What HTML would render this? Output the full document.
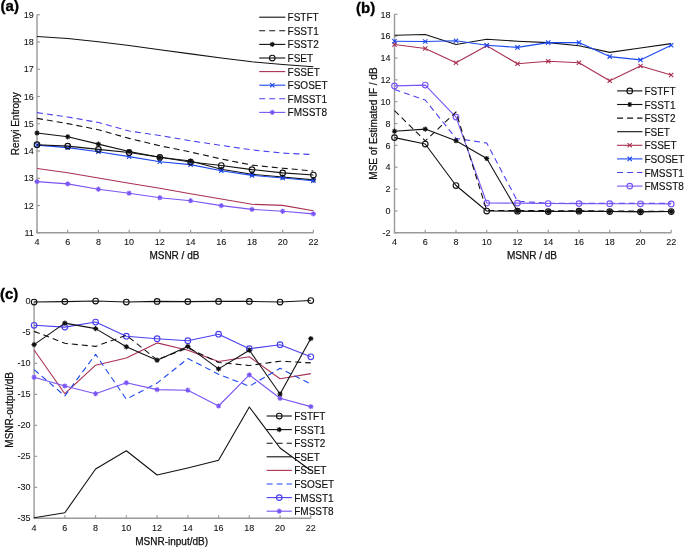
<!DOCTYPE html>
<html><head><meta charset="utf-8"><style>html,body{margin:0;padding:0;background:#fff;width:685px;height:547px;overflow:hidden}</style></head><body>
<svg width="685" height="547" viewBox="0 0 685 547" style="display:block;will-change:transform">
<rect width="685" height="547" fill="#fff"/>
<path d="M37 14.7V232.8H313.4" fill="none" stroke="#9a9a9a" stroke-width="1.4"/>
<line x1="37" y1="232.8" x2="37" y2="229.8" stroke="#9a9a9a" stroke-width="1.2"/>
<line x1="67.71" y1="232.8" x2="67.71" y2="229.8" stroke="#9a9a9a" stroke-width="1.2"/>
<line x1="98.42" y1="232.8" x2="98.42" y2="229.8" stroke="#9a9a9a" stroke-width="1.2"/>
<line x1="129.13" y1="232.8" x2="129.13" y2="229.8" stroke="#9a9a9a" stroke-width="1.2"/>
<line x1="159.84" y1="232.8" x2="159.84" y2="229.8" stroke="#9a9a9a" stroke-width="1.2"/>
<line x1="190.56" y1="232.8" x2="190.56" y2="229.8" stroke="#9a9a9a" stroke-width="1.2"/>
<line x1="221.27" y1="232.8" x2="221.27" y2="229.8" stroke="#9a9a9a" stroke-width="1.2"/>
<line x1="251.98" y1="232.8" x2="251.98" y2="229.8" stroke="#9a9a9a" stroke-width="1.2"/>
<line x1="282.69" y1="232.8" x2="282.69" y2="229.8" stroke="#9a9a9a" stroke-width="1.2"/>
<line x1="313.4" y1="232.8" x2="313.4" y2="229.8" stroke="#9a9a9a" stroke-width="1.2"/>
<line x1="37" y1="232.8" x2="40" y2="232.8" stroke="#9a9a9a" stroke-width="1.2"/>
<line x1="37" y1="205.54" x2="40" y2="205.54" stroke="#9a9a9a" stroke-width="1.2"/>
<line x1="37" y1="178.28" x2="40" y2="178.28" stroke="#9a9a9a" stroke-width="1.2"/>
<line x1="37" y1="151.01" x2="40" y2="151.01" stroke="#9a9a9a" stroke-width="1.2"/>
<line x1="37" y1="123.75" x2="40" y2="123.75" stroke="#9a9a9a" stroke-width="1.2"/>
<line x1="37" y1="96.49" x2="40" y2="96.49" stroke="#9a9a9a" stroke-width="1.2"/>
<line x1="37" y1="69.22" x2="40" y2="69.22" stroke="#9a9a9a" stroke-width="1.2"/>
<line x1="37" y1="41.96" x2="40" y2="41.96" stroke="#9a9a9a" stroke-width="1.2"/>
<line x1="37" y1="14.7" x2="40" y2="14.7" stroke="#9a9a9a" stroke-width="1.2"/>
<text x="37" y="245.2" text-anchor="middle" font-size="9" font-family="Liberation Sans, sans-serif" fill="#111" stroke="#111" stroke-width="0.08">4</text>
<text x="67.71" y="245.2" text-anchor="middle" font-size="9" font-family="Liberation Sans, sans-serif" fill="#111" stroke="#111" stroke-width="0.08">6</text>
<text x="98.42" y="245.2" text-anchor="middle" font-size="9" font-family="Liberation Sans, sans-serif" fill="#111" stroke="#111" stroke-width="0.08">8</text>
<text x="129.13" y="245.2" text-anchor="middle" font-size="9" font-family="Liberation Sans, sans-serif" fill="#111" stroke="#111" stroke-width="0.08">10</text>
<text x="159.84" y="245.2" text-anchor="middle" font-size="9" font-family="Liberation Sans, sans-serif" fill="#111" stroke="#111" stroke-width="0.08">12</text>
<text x="190.56" y="245.2" text-anchor="middle" font-size="9" font-family="Liberation Sans, sans-serif" fill="#111" stroke="#111" stroke-width="0.08">14</text>
<text x="221.27" y="245.2" text-anchor="middle" font-size="9" font-family="Liberation Sans, sans-serif" fill="#111" stroke="#111" stroke-width="0.08">16</text>
<text x="251.98" y="245.2" text-anchor="middle" font-size="9" font-family="Liberation Sans, sans-serif" fill="#111" stroke="#111" stroke-width="0.08">18</text>
<text x="282.69" y="245.2" text-anchor="middle" font-size="9" font-family="Liberation Sans, sans-serif" fill="#111" stroke="#111" stroke-width="0.08">20</text>
<text x="313.4" y="245.2" text-anchor="middle" font-size="9" font-family="Liberation Sans, sans-serif" fill="#111" stroke="#111" stroke-width="0.08">22</text>
<text x="33.8" y="236" text-anchor="end" font-size="9" font-family="Liberation Sans, sans-serif" fill="#111" stroke="#111" stroke-width="0.08">11</text>
<text x="33.8" y="208.74" text-anchor="end" font-size="9" font-family="Liberation Sans, sans-serif" fill="#111" stroke="#111" stroke-width="0.08">12</text>
<text x="33.8" y="181.47" text-anchor="end" font-size="9" font-family="Liberation Sans, sans-serif" fill="#111" stroke="#111" stroke-width="0.08">13</text>
<text x="33.8" y="154.21" text-anchor="end" font-size="9" font-family="Liberation Sans, sans-serif" fill="#111" stroke="#111" stroke-width="0.08">14</text>
<text x="33.8" y="126.95" text-anchor="end" font-size="9" font-family="Liberation Sans, sans-serif" fill="#111" stroke="#111" stroke-width="0.08">15</text>
<text x="33.8" y="99.69" text-anchor="end" font-size="9" font-family="Liberation Sans, sans-serif" fill="#111" stroke="#111" stroke-width="0.08">16</text>
<text x="33.8" y="72.42" text-anchor="end" font-size="9" font-family="Liberation Sans, sans-serif" fill="#111" stroke="#111" stroke-width="0.08">17</text>
<text x="33.8" y="45.16" text-anchor="end" font-size="9" font-family="Liberation Sans, sans-serif" fill="#111" stroke="#111" stroke-width="0.08">18</text>
<text x="33.8" y="17.9" text-anchor="end" font-size="9" font-family="Liberation Sans, sans-serif" fill="#111" stroke="#111" stroke-width="0.08">19</text>
<text x="174.4" y="258.8" text-anchor="middle" font-size="10" font-family="Liberation Sans, sans-serif" fill="#111" stroke="#111" stroke-width="0.25">MSNR / dB</text>
<text x="0" y="0" transform="translate(18.6 123.75) rotate(-90)" text-anchor="middle" font-size="10" font-family="Liberation Sans, sans-serif" fill="#111" stroke="#111" stroke-width="0.25">Renyi Entropy</text>
<path d="M37 36.5 L67.71 38.5 L98.42 41.8 L129.13 45.5 L159.84 49.8 L190.56 53.9 L221.27 58 L251.98 61.8 L282.69 64.5 L313.4 66.8" fill="none" stroke="#111" stroke-width="1.1" stroke-linejoin="round"/>
<path d="M37 118.4 L67.71 123.6 L98.42 129.8 L129.13 138.4 L159.84 145.8 L190.56 152 L221.27 159 L251.98 165.1 L282.69 168.2 L313.4 171" fill="none" stroke="#111" stroke-width="1.1" stroke-dasharray="6 4" stroke-linejoin="round"/>
<path d="M37 112.6 L67.71 117 L98.42 122.5 L129.13 131 L159.84 135.5 L190.56 140.8 L221.27 145.4 L251.98 149.9 L282.69 153.1 L313.4 154.6" fill="none" stroke="#4a40f0" stroke-width="1.1" stroke-dasharray="6 4" stroke-linejoin="round"/>
<path d="M37 168.5 L67.71 172.7 L98.42 178 L129.13 183.3 L159.84 188.2 L190.56 193.8 L221.27 199 L251.98 204.3 L282.69 205.4 L313.4 210.7" fill="none" stroke="#aa3050" stroke-width="1.1" stroke-linejoin="round"/>
<path d="M37 181.6 L67.71 183.9 L98.42 189.2 L129.13 193.2 L159.84 197.7 L190.56 200.7 L221.27 205.6 L251.98 209.4 L282.69 211.3 L313.4 213.9" fill="none" stroke="#7a55f5" stroke-width="1.1" stroke-linejoin="round"/>
<path d="M34.4 181.6H39.6M37 179V184.2M35.18 179.78L38.82 183.42M35.18 183.42L38.82 179.78" stroke="#7a55f5" stroke-width="1.1"/><circle cx="37" cy="181.6" r="1.4" fill="#7a55f5"/>
<path d="M65.11 183.9H70.31M67.71 181.3V186.5M65.89 182.08L69.53 185.72M65.89 185.72L69.53 182.08" stroke="#7a55f5" stroke-width="1.1"/><circle cx="67.71" cy="183.9" r="1.4" fill="#7a55f5"/>
<path d="M95.82 189.2H101.02M98.42 186.6V191.8M96.6 187.38L100.24 191.02M96.6 191.02L100.24 187.38" stroke="#7a55f5" stroke-width="1.1"/><circle cx="98.42" cy="189.2" r="1.4" fill="#7a55f5"/>
<path d="M126.53 193.2H131.73M129.13 190.6V195.8M127.31 191.38L130.95 195.02M127.31 195.02L130.95 191.38" stroke="#7a55f5" stroke-width="1.1"/><circle cx="129.13" cy="193.2" r="1.4" fill="#7a55f5"/>
<path d="M157.24 197.7H162.44M159.84 195.1V200.3M158.02 195.88L161.66 199.52M158.02 199.52L161.66 195.88" stroke="#7a55f5" stroke-width="1.1"/><circle cx="159.84" cy="197.7" r="1.4" fill="#7a55f5"/>
<path d="M187.96 200.7H193.16M190.56 198.1V203.3M188.74 198.88L192.38 202.52M188.74 202.52L192.38 198.88" stroke="#7a55f5" stroke-width="1.1"/><circle cx="190.56" cy="200.7" r="1.4" fill="#7a55f5"/>
<path d="M218.67 205.6H223.87M221.27 203V208.2M219.45 203.78L223.09 207.42M219.45 207.42L223.09 203.78" stroke="#7a55f5" stroke-width="1.1"/><circle cx="221.27" cy="205.6" r="1.4" fill="#7a55f5"/>
<path d="M249.38 209.4H254.58M251.98 206.8V212M250.16 207.58L253.8 211.22M250.16 211.22L253.8 207.58" stroke="#7a55f5" stroke-width="1.1"/><circle cx="251.98" cy="209.4" r="1.4" fill="#7a55f5"/>
<path d="M280.09 211.3H285.29M282.69 208.7V213.9M280.87 209.48L284.51 213.12M280.87 213.12L284.51 209.48" stroke="#7a55f5" stroke-width="1.1"/><circle cx="282.69" cy="211.3" r="1.4" fill="#7a55f5"/>
<path d="M310.8 213.9H316M313.4 211.3V216.5M311.58 212.08L315.22 215.72M311.58 215.72L315.22 212.08" stroke="#7a55f5" stroke-width="1.1"/><circle cx="313.4" cy="213.9" r="1.4" fill="#7a55f5"/>
<path d="M37 133 L67.71 136.8 L98.42 144.1 L129.13 151.5 L159.84 157.3 L190.56 161 L221.27 169.3 L251.98 174.3 L282.69 177 L313.4 179.9" fill="none" stroke="#111" stroke-width="1.1" stroke-linejoin="round"/>
<path d="M34.4 133H39.6M37 130.4V135.6M35.18 131.18L38.82 134.82M35.18 134.82L38.82 131.18" stroke="#111" stroke-width="1.1"/><circle cx="37" cy="133" r="1.4" fill="#111"/>
<path d="M65.11 136.8H70.31M67.71 134.2V139.4M65.89 134.98L69.53 138.62M65.89 138.62L69.53 134.98" stroke="#111" stroke-width="1.1"/><circle cx="67.71" cy="136.8" r="1.4" fill="#111"/>
<path d="M95.82 144.1H101.02M98.42 141.5V146.7M96.6 142.28L100.24 145.92M96.6 145.92L100.24 142.28" stroke="#111" stroke-width="1.1"/><circle cx="98.42" cy="144.1" r="1.4" fill="#111"/>
<path d="M126.53 151.5H131.73M129.13 148.9V154.1M127.31 149.68L130.95 153.32M127.31 153.32L130.95 149.68" stroke="#111" stroke-width="1.1"/><circle cx="129.13" cy="151.5" r="1.4" fill="#111"/>
<path d="M157.24 157.3H162.44M159.84 154.7V159.9M158.02 155.48L161.66 159.12M158.02 159.12L161.66 155.48" stroke="#111" stroke-width="1.1"/><circle cx="159.84" cy="157.3" r="1.4" fill="#111"/>
<path d="M187.96 161H193.16M190.56 158.4V163.6M188.74 159.18L192.38 162.82M188.74 162.82L192.38 159.18" stroke="#111" stroke-width="1.1"/><circle cx="190.56" cy="161" r="1.4" fill="#111"/>
<path d="M218.67 169.3H223.87M221.27 166.7V171.9M219.45 167.48L223.09 171.12M219.45 171.12L223.09 167.48" stroke="#111" stroke-width="1.1"/><circle cx="221.27" cy="169.3" r="1.4" fill="#111"/>
<path d="M249.38 174.3H254.58M251.98 171.7V176.9M250.16 172.48L253.8 176.12M250.16 176.12L253.8 172.48" stroke="#111" stroke-width="1.1"/><circle cx="251.98" cy="174.3" r="1.4" fill="#111"/>
<path d="M280.09 177H285.29M282.69 174.4V179.6M280.87 175.18L284.51 178.82M280.87 178.82L284.51 175.18" stroke="#111" stroke-width="1.1"/><circle cx="282.69" cy="177" r="1.4" fill="#111"/>
<path d="M310.8 179.9H316M313.4 177.3V182.5M311.58 178.08L315.22 181.72M311.58 181.72L315.22 178.08" stroke="#111" stroke-width="1.1"/><circle cx="313.4" cy="179.9" r="1.4" fill="#111"/>
<path d="M37 145.1 L67.71 147.6 L98.42 151.7 L129.13 156.6 L159.84 161.7 L190.56 164.6 L221.27 170.7 L251.98 175.4 L282.69 178 L313.4 180.7" fill="none" stroke="#1c48f0" stroke-width="1.1" stroke-linejoin="round"/>
<path d="M34.85 142.95L39.15 147.25M34.85 147.25L39.15 142.95" stroke="#1c48f0" stroke-width="1.1"/>
<path d="M65.56 145.45L69.86 149.75M65.56 149.75L69.86 145.45" stroke="#1c48f0" stroke-width="1.1"/>
<path d="M96.27 149.55L100.57 153.85M96.27 153.85L100.57 149.55" stroke="#1c48f0" stroke-width="1.1"/>
<path d="M126.98 154.45L131.28 158.75M126.98 158.75L131.28 154.45" stroke="#1c48f0" stroke-width="1.1"/>
<path d="M157.69 159.55L161.99 163.85M157.69 163.85L161.99 159.55" stroke="#1c48f0" stroke-width="1.1"/>
<path d="M188.41 162.45L192.71 166.75M188.41 166.75L192.71 162.45" stroke="#1c48f0" stroke-width="1.1"/>
<path d="M219.12 168.55L223.42 172.85M219.12 172.85L223.42 168.55" stroke="#1c48f0" stroke-width="1.1"/>
<path d="M249.83 173.25L254.13 177.55M249.83 177.55L254.13 173.25" stroke="#1c48f0" stroke-width="1.1"/>
<path d="M280.54 175.85L284.84 180.15M280.54 180.15L284.84 175.85" stroke="#1c48f0" stroke-width="1.1"/>
<path d="M311.25 178.55L315.55 182.85M311.25 182.85L315.55 178.55" stroke="#1c48f0" stroke-width="1.1"/>
<path d="M37 144.7 L67.71 146.1 L98.42 149.4 L129.13 152.5 L159.84 157.3 L190.56 162 L221.27 165.5 L251.98 169.6 L282.69 172.9 L313.4 175" fill="none" stroke="#111" stroke-width="1.1" stroke-linejoin="round"/>
<circle cx="37" cy="144.7" r="2.8" fill="none" stroke="#111" stroke-width="1.15"/>
<circle cx="67.71" cy="146.1" r="2.8" fill="none" stroke="#111" stroke-width="1.15"/>
<circle cx="98.42" cy="149.4" r="2.8" fill="none" stroke="#111" stroke-width="1.15"/>
<circle cx="129.13" cy="152.5" r="2.8" fill="none" stroke="#111" stroke-width="1.15"/>
<circle cx="159.84" cy="157.3" r="2.8" fill="none" stroke="#111" stroke-width="1.15"/>
<circle cx="190.56" cy="162" r="2.8" fill="none" stroke="#111" stroke-width="1.15"/>
<circle cx="221.27" cy="165.5" r="2.8" fill="none" stroke="#111" stroke-width="1.15"/>
<circle cx="251.98" cy="169.6" r="2.8" fill="none" stroke="#111" stroke-width="1.15"/>
<circle cx="282.69" cy="172.9" r="2.8" fill="none" stroke="#111" stroke-width="1.15"/>
<circle cx="313.4" cy="175" r="2.8" fill="none" stroke="#111" stroke-width="1.15"/>
<line x1="259.2" y1="17.2" x2="285.3" y2="17.2" stroke="#111" stroke-width="1.1"/>
<text x="287.6" y="21.2" font-size="10" font-family="Liberation Sans, sans-serif" fill="#111" stroke="#111" stroke-width="0.15">FSTFT</text>
<line x1="259.2" y1="30.8" x2="285.3" y2="30.8" stroke="#111" stroke-width="1.1" stroke-dasharray="6 4"/>
<text x="287.6" y="34.8" font-size="10" font-family="Liberation Sans, sans-serif" fill="#111" stroke="#111" stroke-width="0.15">FSST1</text>
<line x1="259.2" y1="44.4" x2="285.3" y2="44.4" stroke="#111" stroke-width="1.1"/>
<path d="M269.65 44.4H274.85M272.25 41.8V47M270.43 42.58L274.07 46.22M270.43 46.22L274.07 42.58" stroke="#111" stroke-width="1.1"/><circle cx="272.25" cy="44.4" r="1.4" fill="#111"/>
<text x="287.6" y="48.4" font-size="10" font-family="Liberation Sans, sans-serif" fill="#111" stroke="#111" stroke-width="0.15">FSST2</text>
<line x1="259.2" y1="58" x2="285.3" y2="58" stroke="#111" stroke-width="1.1"/>
<circle cx="272.25" cy="58" r="2.8" fill="none" stroke="#111" stroke-width="1.15"/>
<text x="287.6" y="62" font-size="10" font-family="Liberation Sans, sans-serif" fill="#111" stroke="#111" stroke-width="0.15">FSET</text>
<line x1="259.2" y1="71.6" x2="285.3" y2="71.6" stroke="#aa3050" stroke-width="1.1"/>
<text x="287.6" y="75.6" font-size="10" font-family="Liberation Sans, sans-serif" fill="#111" stroke="#111" stroke-width="0.15">FSSET</text>
<line x1="259.2" y1="85.2" x2="285.3" y2="85.2" stroke="#1c48f0" stroke-width="1.1"/>
<path d="M270.1 83.05L274.4 87.35M270.1 87.35L274.4 83.05" stroke="#1c48f0" stroke-width="1.1"/>
<text x="287.6" y="89.2" font-size="10" font-family="Liberation Sans, sans-serif" fill="#111" stroke="#111" stroke-width="0.15">FSOSET</text>
<line x1="259.2" y1="98.8" x2="285.3" y2="98.8" stroke="#4a40f0" stroke-width="1.1" stroke-dasharray="6 4"/>
<text x="287.6" y="102.8" font-size="10" font-family="Liberation Sans, sans-serif" fill="#111" stroke="#111" stroke-width="0.15">FMSST1</text>
<line x1="259.2" y1="112.4" x2="285.3" y2="112.4" stroke="#7a55f5" stroke-width="1.1"/>
<path d="M269.65 112.4H274.85M272.25 109.8V115M270.43 110.58L274.07 114.22M270.43 114.22L274.07 110.58" stroke="#7a55f5" stroke-width="1.1"/><circle cx="272.25" cy="112.4" r="1.4" fill="#7a55f5"/>
<text x="287.6" y="116.4" font-size="10" font-family="Liberation Sans, sans-serif" fill="#111" stroke="#111" stroke-width="0.15">FMSST8</text>
<text x="0.6" y="11.3" font-size="15" font-weight="bold" font-family="Liberation Sans, sans-serif" fill="#000" stroke="#000" stroke-width="0.35">(a)</text>
<path d="M394.5 14.3V232.8H671.2" fill="none" stroke="#9a9a9a" stroke-width="1.4"/>
<line x1="394.5" y1="232.8" x2="394.5" y2="229.8" stroke="#9a9a9a" stroke-width="1.2"/>
<line x1="425.24" y1="232.8" x2="425.24" y2="229.8" stroke="#9a9a9a" stroke-width="1.2"/>
<line x1="455.99" y1="232.8" x2="455.99" y2="229.8" stroke="#9a9a9a" stroke-width="1.2"/>
<line x1="486.73" y1="232.8" x2="486.73" y2="229.8" stroke="#9a9a9a" stroke-width="1.2"/>
<line x1="517.48" y1="232.8" x2="517.48" y2="229.8" stroke="#9a9a9a" stroke-width="1.2"/>
<line x1="548.22" y1="232.8" x2="548.22" y2="229.8" stroke="#9a9a9a" stroke-width="1.2"/>
<line x1="578.97" y1="232.8" x2="578.97" y2="229.8" stroke="#9a9a9a" stroke-width="1.2"/>
<line x1="609.71" y1="232.8" x2="609.71" y2="229.8" stroke="#9a9a9a" stroke-width="1.2"/>
<line x1="640.46" y1="232.8" x2="640.46" y2="229.8" stroke="#9a9a9a" stroke-width="1.2"/>
<line x1="671.2" y1="232.8" x2="671.2" y2="229.8" stroke="#9a9a9a" stroke-width="1.2"/>
<line x1="394.5" y1="232.8" x2="397.5" y2="232.8" stroke="#9a9a9a" stroke-width="1.2"/>
<line x1="394.5" y1="210.95" x2="397.5" y2="210.95" stroke="#9a9a9a" stroke-width="1.2"/>
<line x1="394.5" y1="189.1" x2="397.5" y2="189.1" stroke="#9a9a9a" stroke-width="1.2"/>
<line x1="394.5" y1="167.25" x2="397.5" y2="167.25" stroke="#9a9a9a" stroke-width="1.2"/>
<line x1="394.5" y1="145.4" x2="397.5" y2="145.4" stroke="#9a9a9a" stroke-width="1.2"/>
<line x1="394.5" y1="123.55" x2="397.5" y2="123.55" stroke="#9a9a9a" stroke-width="1.2"/>
<line x1="394.5" y1="101.7" x2="397.5" y2="101.7" stroke="#9a9a9a" stroke-width="1.2"/>
<line x1="394.5" y1="79.85" x2="397.5" y2="79.85" stroke="#9a9a9a" stroke-width="1.2"/>
<line x1="394.5" y1="58" x2="397.5" y2="58" stroke="#9a9a9a" stroke-width="1.2"/>
<line x1="394.5" y1="36.15" x2="397.5" y2="36.15" stroke="#9a9a9a" stroke-width="1.2"/>
<line x1="394.5" y1="14.3" x2="397.5" y2="14.3" stroke="#9a9a9a" stroke-width="1.2"/>
<text x="394.5" y="245.2" text-anchor="middle" font-size="9" font-family="Liberation Sans, sans-serif" fill="#111" stroke="#111" stroke-width="0.08">4</text>
<text x="425.24" y="245.2" text-anchor="middle" font-size="9" font-family="Liberation Sans, sans-serif" fill="#111" stroke="#111" stroke-width="0.08">6</text>
<text x="455.99" y="245.2" text-anchor="middle" font-size="9" font-family="Liberation Sans, sans-serif" fill="#111" stroke="#111" stroke-width="0.08">8</text>
<text x="486.73" y="245.2" text-anchor="middle" font-size="9" font-family="Liberation Sans, sans-serif" fill="#111" stroke="#111" stroke-width="0.08">10</text>
<text x="517.48" y="245.2" text-anchor="middle" font-size="9" font-family="Liberation Sans, sans-serif" fill="#111" stroke="#111" stroke-width="0.08">12</text>
<text x="548.22" y="245.2" text-anchor="middle" font-size="9" font-family="Liberation Sans, sans-serif" fill="#111" stroke="#111" stroke-width="0.08">14</text>
<text x="578.97" y="245.2" text-anchor="middle" font-size="9" font-family="Liberation Sans, sans-serif" fill="#111" stroke="#111" stroke-width="0.08">16</text>
<text x="609.71" y="245.2" text-anchor="middle" font-size="9" font-family="Liberation Sans, sans-serif" fill="#111" stroke="#111" stroke-width="0.08">18</text>
<text x="640.46" y="245.2" text-anchor="middle" font-size="9" font-family="Liberation Sans, sans-serif" fill="#111" stroke="#111" stroke-width="0.08">20</text>
<text x="671.2" y="245.2" text-anchor="middle" font-size="9" font-family="Liberation Sans, sans-serif" fill="#111" stroke="#111" stroke-width="0.08">22</text>
<text x="390.5" y="236" text-anchor="end" font-size="9" font-family="Liberation Sans, sans-serif" fill="#111" stroke="#111" stroke-width="0.08">-2</text>
<text x="390.5" y="214.15" text-anchor="end" font-size="9" font-family="Liberation Sans, sans-serif" fill="#111" stroke="#111" stroke-width="0.08">0</text>
<text x="390.5" y="192.3" text-anchor="end" font-size="9" font-family="Liberation Sans, sans-serif" fill="#111" stroke="#111" stroke-width="0.08">2</text>
<text x="390.5" y="170.45" text-anchor="end" font-size="9" font-family="Liberation Sans, sans-serif" fill="#111" stroke="#111" stroke-width="0.08">4</text>
<text x="390.5" y="148.6" text-anchor="end" font-size="9" font-family="Liberation Sans, sans-serif" fill="#111" stroke="#111" stroke-width="0.08">6</text>
<text x="390.5" y="126.75" text-anchor="end" font-size="9" font-family="Liberation Sans, sans-serif" fill="#111" stroke="#111" stroke-width="0.08">8</text>
<text x="390.5" y="104.9" text-anchor="end" font-size="9" font-family="Liberation Sans, sans-serif" fill="#111" stroke="#111" stroke-width="0.08">10</text>
<text x="390.5" y="83.05" text-anchor="end" font-size="9" font-family="Liberation Sans, sans-serif" fill="#111" stroke="#111" stroke-width="0.08">12</text>
<text x="390.5" y="61.2" text-anchor="end" font-size="9" font-family="Liberation Sans, sans-serif" fill="#111" stroke="#111" stroke-width="0.08">14</text>
<text x="390.5" y="39.35" text-anchor="end" font-size="9" font-family="Liberation Sans, sans-serif" fill="#111" stroke="#111" stroke-width="0.08">16</text>
<text x="390.5" y="17.5" text-anchor="end" font-size="9" font-family="Liberation Sans, sans-serif" fill="#111" stroke="#111" stroke-width="0.08">18</text>
<text x="532.05" y="258.9" text-anchor="middle" font-size="10" font-family="Liberation Sans, sans-serif" fill="#111" stroke="#111" stroke-width="0.25">MSNR / dB</text>
<text x="0" y="0" transform="translate(376.8 123.55) rotate(-90)" text-anchor="middle" font-size="10" font-family="Liberation Sans, sans-serif" fill="#111" stroke="#111" stroke-width="0.25">MSE of Estimated IF / dB</text>
<path d="M394.5 35.3 L425.24 34.5 L455.99 44.5 L486.73 39.3 L517.48 41.2 L548.22 42.6 L578.97 45.8 L609.71 52.4 L640.46 48 L671.2 43.6" fill="none" stroke="#111" stroke-width="1.1" stroke-linejoin="round"/>
<path d="M394.5 44.5 L425.24 48.5 L455.99 62.7 L486.73 45.8 L517.48 63.8 L548.22 61.2 L578.97 62.7 L609.71 80.8 L640.46 66 L671.2 75" fill="none" stroke="#aa3050" stroke-width="1.1" stroke-linejoin="round"/>
<path d="M392.35 42.35L396.65 46.65M392.35 46.65L396.65 42.35" stroke="#aa3050" stroke-width="1.1"/>
<path d="M423.09 46.35L427.39 50.65M423.09 50.65L427.39 46.35" stroke="#aa3050" stroke-width="1.1"/>
<path d="M453.84 60.55L458.14 64.85M453.84 64.85L458.14 60.55" stroke="#aa3050" stroke-width="1.1"/>
<path d="M484.58 43.65L488.88 47.95M484.58 47.95L488.88 43.65" stroke="#aa3050" stroke-width="1.1"/>
<path d="M515.33 61.65L519.63 65.95M515.33 65.95L519.63 61.65" stroke="#aa3050" stroke-width="1.1"/>
<path d="M546.07 59.05L550.37 63.35M546.07 63.35L550.37 59.05" stroke="#aa3050" stroke-width="1.1"/>
<path d="M576.82 60.55L581.12 64.85M576.82 64.85L581.12 60.55" stroke="#aa3050" stroke-width="1.1"/>
<path d="M607.56 78.65L611.86 82.95M607.56 82.95L611.86 78.65" stroke="#aa3050" stroke-width="1.1"/>
<path d="M638.31 63.85L642.61 68.15M638.31 68.15L642.61 63.85" stroke="#aa3050" stroke-width="1.1"/>
<path d="M669.05 72.85L673.35 77.15M669.05 77.15L673.35 72.85" stroke="#aa3050" stroke-width="1.1"/>
<path d="M394.5 41.2 L425.24 41.5 L455.99 40.8 L486.73 45.2 L517.48 47.4 L548.22 42.6 L578.97 42.6 L609.71 56.6 L640.46 59.9 L671.2 45.2" fill="none" stroke="#1c48f0" stroke-width="1.1" stroke-linejoin="round"/>
<path d="M392.35 39.05L396.65 43.35M392.35 43.35L396.65 39.05" stroke="#1c48f0" stroke-width="1.1"/>
<path d="M423.09 39.35L427.39 43.65M423.09 43.65L427.39 39.35" stroke="#1c48f0" stroke-width="1.1"/>
<path d="M453.84 38.65L458.14 42.95M453.84 42.95L458.14 38.65" stroke="#1c48f0" stroke-width="1.1"/>
<path d="M484.58 43.05L488.88 47.35M484.58 47.35L488.88 43.05" stroke="#1c48f0" stroke-width="1.1"/>
<path d="M515.33 45.25L519.63 49.55M515.33 49.55L519.63 45.25" stroke="#1c48f0" stroke-width="1.1"/>
<path d="M546.07 40.45L550.37 44.75M546.07 44.75L550.37 40.45" stroke="#1c48f0" stroke-width="1.1"/>
<path d="M576.82 40.45L581.12 44.75M576.82 44.75L581.12 40.45" stroke="#1c48f0" stroke-width="1.1"/>
<path d="M607.56 54.45L611.86 58.75M607.56 58.75L611.86 54.45" stroke="#1c48f0" stroke-width="1.1"/>
<path d="M638.31 57.75L642.61 62.05M638.31 62.05L642.61 57.75" stroke="#1c48f0" stroke-width="1.1"/>
<path d="M669.05 43.05L673.35 47.35M669.05 47.35L673.35 43.05" stroke="#1c48f0" stroke-width="1.1"/>
<path d="M394.5 89.5 L425.24 100 L455.99 138.4 L486.73 143 L517.48 201.2 L548.22 203.2 L578.97 203.3 L609.71 203.4 L640.46 203.4 L671.2 203.4" fill="none" stroke="#4a40f0" stroke-width="1.1" stroke-dasharray="6 4" stroke-linejoin="round"/>
<path d="M394.5 85.9 L425.24 85.1 L455.99 117.1 L486.73 203 L517.48 203.1 L548.22 203.5 L578.97 203.6 L609.71 203.7 L640.46 203.8 L671.2 203.9" fill="none" stroke="#7a55f5" stroke-width="1.1" stroke-linejoin="round"/>
<circle cx="394.5" cy="85.9" r="2.8" fill="none" stroke="#7a55f5" stroke-width="1.15"/>
<circle cx="425.24" cy="85.1" r="2.8" fill="none" stroke="#7a55f5" stroke-width="1.15"/>
<circle cx="455.99" cy="117.1" r="2.8" fill="none" stroke="#7a55f5" stroke-width="1.15"/>
<circle cx="486.73" cy="203" r="2.8" fill="none" stroke="#7a55f5" stroke-width="1.15"/>
<circle cx="517.48" cy="203.1" r="2.8" fill="none" stroke="#7a55f5" stroke-width="1.15"/>
<circle cx="548.22" cy="203.5" r="2.8" fill="none" stroke="#7a55f5" stroke-width="1.15"/>
<circle cx="578.97" cy="203.6" r="2.8" fill="none" stroke="#7a55f5" stroke-width="1.15"/>
<circle cx="609.71" cy="203.7" r="2.8" fill="none" stroke="#7a55f5" stroke-width="1.15"/>
<circle cx="640.46" cy="203.8" r="2.8" fill="none" stroke="#7a55f5" stroke-width="1.15"/>
<circle cx="671.2" cy="203.9" r="2.8" fill="none" stroke="#7a55f5" stroke-width="1.15"/>
<path d="M394.5 110.7 L425.24 140.9 L455.99 112 L486.73 210.5 L517.48 210.5 L548.22 210.7 L578.97 210.8 L609.71 211 L640.46 211.2 L671.2 211.2" fill="none" stroke="#111" stroke-width="1.1" stroke-dasharray="6 4" stroke-linejoin="round"/>
<path d="M394.5 131.2 L425.24 129.1 L455.99 140.7 L486.73 158.5 L517.48 211 L548.22 211.5 L578.97 211.2 L609.71 211.5 L640.46 211.8 L671.2 211.5" fill="none" stroke="#111" stroke-width="1.1" stroke-linejoin="round"/>
<path d="M391.9 131.2H397.1M394.5 128.6V133.8M392.68 129.38L396.32 133.02M392.68 133.02L396.32 129.38" stroke="#111" stroke-width="1.1"/><circle cx="394.5" cy="131.2" r="1.4" fill="#111"/>
<path d="M422.64 129.1H427.84M425.24 126.5V131.7M423.42 127.28L427.06 130.92M423.42 130.92L427.06 127.28" stroke="#111" stroke-width="1.1"/><circle cx="425.24" cy="129.1" r="1.4" fill="#111"/>
<path d="M453.39 140.7H458.59M455.99 138.1V143.3M454.17 138.88L457.81 142.52M454.17 142.52L457.81 138.88" stroke="#111" stroke-width="1.1"/><circle cx="455.99" cy="140.7" r="1.4" fill="#111"/>
<path d="M484.13 158.5H489.33M486.73 155.9V161.1M484.91 156.68L488.55 160.32M484.91 160.32L488.55 156.68" stroke="#111" stroke-width="1.1"/><circle cx="486.73" cy="158.5" r="1.4" fill="#111"/>
<path d="M514.88 211H520.08M517.48 208.4V213.6M515.66 209.18L519.3 212.82M515.66 212.82L519.3 209.18" stroke="#111" stroke-width="1.1"/><circle cx="517.48" cy="211" r="1.4" fill="#111"/>
<path d="M545.62 211.5H550.82M548.22 208.9V214.1M546.4 209.68L550.04 213.32M546.4 213.32L550.04 209.68" stroke="#111" stroke-width="1.1"/><circle cx="548.22" cy="211.5" r="1.4" fill="#111"/>
<path d="M576.37 211.2H581.57M578.97 208.6V213.8M577.15 209.38L580.79 213.02M577.15 213.02L580.79 209.38" stroke="#111" stroke-width="1.1"/><circle cx="578.97" cy="211.2" r="1.4" fill="#111"/>
<path d="M607.11 211.5H612.31M609.71 208.9V214.1M607.89 209.68L611.53 213.32M607.89 213.32L611.53 209.68" stroke="#111" stroke-width="1.1"/><circle cx="609.71" cy="211.5" r="1.4" fill="#111"/>
<path d="M637.86 211.8H643.06M640.46 209.2V214.4M638.64 209.98L642.28 213.62M638.64 213.62L642.28 209.98" stroke="#111" stroke-width="1.1"/><circle cx="640.46" cy="211.8" r="1.4" fill="#111"/>
<path d="M668.6 211.5H673.8M671.2 208.9V214.1M669.38 209.68L673.02 213.32M669.38 213.32L673.02 209.68" stroke="#111" stroke-width="1.1"/><circle cx="671.2" cy="211.5" r="1.4" fill="#111"/>
<path d="M394.5 137.6 L425.24 144 L455.99 185.5 L486.73 211 L517.48 211.2 L548.22 211.5 L578.97 211.2 L609.71 211.5 L640.46 211.8 L671.2 211.5" fill="none" stroke="#111" stroke-width="1.1" stroke-linejoin="round"/>
<circle cx="394.5" cy="137.6" r="2.8" fill="none" stroke="#111" stroke-width="1.15"/>
<circle cx="425.24" cy="144" r="2.8" fill="none" stroke="#111" stroke-width="1.15"/>
<circle cx="455.99" cy="185.5" r="2.8" fill="none" stroke="#111" stroke-width="1.15"/>
<circle cx="486.73" cy="211" r="2.8" fill="none" stroke="#111" stroke-width="1.15"/>
<circle cx="517.48" cy="211.2" r="2.8" fill="none" stroke="#111" stroke-width="1.15"/>
<circle cx="548.22" cy="211.5" r="2.8" fill="none" stroke="#111" stroke-width="1.15"/>
<circle cx="578.97" cy="211.2" r="2.8" fill="none" stroke="#111" stroke-width="1.15"/>
<circle cx="609.71" cy="211.5" r="2.8" fill="none" stroke="#111" stroke-width="1.15"/>
<circle cx="640.46" cy="211.8" r="2.8" fill="none" stroke="#111" stroke-width="1.15"/>
<circle cx="671.2" cy="211.5" r="2.8" fill="none" stroke="#111" stroke-width="1.15"/>
<line x1="617.1" y1="90.9" x2="642.4" y2="90.9" stroke="#111" stroke-width="1.1"/>
<circle cx="629.75" cy="90.9" r="2.8" fill="none" stroke="#111" stroke-width="1.15"/>
<text x="644.4" y="94.9" font-size="10" font-family="Liberation Sans, sans-serif" fill="#111" stroke="#111" stroke-width="0.15">FSTFT</text>
<line x1="617.1" y1="104.5" x2="642.4" y2="104.5" stroke="#111" stroke-width="1.1"/>
<path d="M627.15 104.5H632.35M629.75 101.9V107.1M627.93 102.68L631.57 106.32M627.93 106.32L631.57 102.68" stroke="#111" stroke-width="1.1"/><circle cx="629.75" cy="104.5" r="1.4" fill="#111"/>
<text x="644.4" y="108.5" font-size="10" font-family="Liberation Sans, sans-serif" fill="#111" stroke="#111" stroke-width="0.15">FSST1</text>
<line x1="617.1" y1="118.1" x2="642.4" y2="118.1" stroke="#111" stroke-width="1.1" stroke-dasharray="6 4"/>
<text x="644.4" y="122.1" font-size="10" font-family="Liberation Sans, sans-serif" fill="#111" stroke="#111" stroke-width="0.15">FSST2</text>
<line x1="617.1" y1="131.7" x2="642.4" y2="131.7" stroke="#111" stroke-width="1.1"/>
<text x="644.4" y="135.7" font-size="10" font-family="Liberation Sans, sans-serif" fill="#111" stroke="#111" stroke-width="0.15">FSET</text>
<line x1="617.1" y1="145.3" x2="642.4" y2="145.3" stroke="#aa3050" stroke-width="1.1"/>
<path d="M627.6 143.15L631.9 147.45M627.6 147.45L631.9 143.15" stroke="#aa3050" stroke-width="1.1"/>
<text x="644.4" y="149.3" font-size="10" font-family="Liberation Sans, sans-serif" fill="#111" stroke="#111" stroke-width="0.15">FSSET</text>
<line x1="617.1" y1="158.9" x2="642.4" y2="158.9" stroke="#1c48f0" stroke-width="1.1"/>
<path d="M627.6 156.75L631.9 161.05M627.6 161.05L631.9 156.75" stroke="#1c48f0" stroke-width="1.1"/>
<text x="644.4" y="162.9" font-size="10" font-family="Liberation Sans, sans-serif" fill="#111" stroke="#111" stroke-width="0.15">FSOSET</text>
<line x1="617.1" y1="172.5" x2="642.4" y2="172.5" stroke="#4a40f0" stroke-width="1.1" stroke-dasharray="6 4"/>
<text x="644.4" y="176.5" font-size="10" font-family="Liberation Sans, sans-serif" fill="#111" stroke="#111" stroke-width="0.15">FMSST1</text>
<line x1="617.1" y1="186.1" x2="642.4" y2="186.1" stroke="#7a55f5" stroke-width="1.1"/>
<circle cx="629.75" cy="186.1" r="2.8" fill="none" stroke="#7a55f5" stroke-width="1.15"/>
<text x="644.4" y="190.1" font-size="10" font-family="Liberation Sans, sans-serif" fill="#111" stroke="#111" stroke-width="0.15">FMSST8</text>
<text x="356" y="13.4" font-size="15" font-weight="bold" font-family="Liberation Sans, sans-serif" fill="#000" stroke="#000" stroke-width="0.35">(b)</text>
<path d="M34.1 301.4V518.3H310.8" fill="none" stroke="#9a9a9a" stroke-width="1.4"/>
<line x1="34.1" y1="518.3" x2="34.1" y2="515.3" stroke="#9a9a9a" stroke-width="1.2"/>
<line x1="64.84" y1="518.3" x2="64.84" y2="515.3" stroke="#9a9a9a" stroke-width="1.2"/>
<line x1="95.59" y1="518.3" x2="95.59" y2="515.3" stroke="#9a9a9a" stroke-width="1.2"/>
<line x1="126.33" y1="518.3" x2="126.33" y2="515.3" stroke="#9a9a9a" stroke-width="1.2"/>
<line x1="157.08" y1="518.3" x2="157.08" y2="515.3" stroke="#9a9a9a" stroke-width="1.2"/>
<line x1="187.82" y1="518.3" x2="187.82" y2="515.3" stroke="#9a9a9a" stroke-width="1.2"/>
<line x1="218.57" y1="518.3" x2="218.57" y2="515.3" stroke="#9a9a9a" stroke-width="1.2"/>
<line x1="249.31" y1="518.3" x2="249.31" y2="515.3" stroke="#9a9a9a" stroke-width="1.2"/>
<line x1="280.06" y1="518.3" x2="280.06" y2="515.3" stroke="#9a9a9a" stroke-width="1.2"/>
<line x1="310.8" y1="518.3" x2="310.8" y2="515.3" stroke="#9a9a9a" stroke-width="1.2"/>
<line x1="34.1" y1="518.3" x2="37.1" y2="518.3" stroke="#9a9a9a" stroke-width="1.2"/>
<line x1="34.1" y1="487.31" x2="37.1" y2="487.31" stroke="#9a9a9a" stroke-width="1.2"/>
<line x1="34.1" y1="456.33" x2="37.1" y2="456.33" stroke="#9a9a9a" stroke-width="1.2"/>
<line x1="34.1" y1="425.34" x2="37.1" y2="425.34" stroke="#9a9a9a" stroke-width="1.2"/>
<line x1="34.1" y1="394.36" x2="37.1" y2="394.36" stroke="#9a9a9a" stroke-width="1.2"/>
<line x1="34.1" y1="363.37" x2="37.1" y2="363.37" stroke="#9a9a9a" stroke-width="1.2"/>
<line x1="34.1" y1="332.39" x2="37.1" y2="332.39" stroke="#9a9a9a" stroke-width="1.2"/>
<line x1="34.1" y1="301.4" x2="37.1" y2="301.4" stroke="#9a9a9a" stroke-width="1.2"/>
<text x="34.1" y="530.9" text-anchor="middle" font-size="9" font-family="Liberation Sans, sans-serif" fill="#111" stroke="#111" stroke-width="0.08">4</text>
<text x="64.84" y="530.9" text-anchor="middle" font-size="9" font-family="Liberation Sans, sans-serif" fill="#111" stroke="#111" stroke-width="0.08">6</text>
<text x="95.59" y="530.9" text-anchor="middle" font-size="9" font-family="Liberation Sans, sans-serif" fill="#111" stroke="#111" stroke-width="0.08">8</text>
<text x="126.33" y="530.9" text-anchor="middle" font-size="9" font-family="Liberation Sans, sans-serif" fill="#111" stroke="#111" stroke-width="0.08">10</text>
<text x="157.08" y="530.9" text-anchor="middle" font-size="9" font-family="Liberation Sans, sans-serif" fill="#111" stroke="#111" stroke-width="0.08">12</text>
<text x="187.82" y="530.9" text-anchor="middle" font-size="9" font-family="Liberation Sans, sans-serif" fill="#111" stroke="#111" stroke-width="0.08">14</text>
<text x="218.57" y="530.9" text-anchor="middle" font-size="9" font-family="Liberation Sans, sans-serif" fill="#111" stroke="#111" stroke-width="0.08">16</text>
<text x="249.31" y="530.9" text-anchor="middle" font-size="9" font-family="Liberation Sans, sans-serif" fill="#111" stroke="#111" stroke-width="0.08">18</text>
<text x="280.06" y="530.9" text-anchor="middle" font-size="9" font-family="Liberation Sans, sans-serif" fill="#111" stroke="#111" stroke-width="0.08">20</text>
<text x="310.8" y="530.9" text-anchor="middle" font-size="9" font-family="Liberation Sans, sans-serif" fill="#111" stroke="#111" stroke-width="0.08">22</text>
<text x="30.5" y="520.7" text-anchor="end" font-size="9" font-family="Liberation Sans, sans-serif" fill="#111" stroke="#111" stroke-width="0.08">-35</text>
<text x="30.5" y="489.71" text-anchor="end" font-size="9" font-family="Liberation Sans, sans-serif" fill="#111" stroke="#111" stroke-width="0.08">-30</text>
<text x="30.5" y="458.73" text-anchor="end" font-size="9" font-family="Liberation Sans, sans-serif" fill="#111" stroke="#111" stroke-width="0.08">-25</text>
<text x="30.5" y="427.74" text-anchor="end" font-size="9" font-family="Liberation Sans, sans-serif" fill="#111" stroke="#111" stroke-width="0.08">-20</text>
<text x="30.5" y="396.76" text-anchor="end" font-size="9" font-family="Liberation Sans, sans-serif" fill="#111" stroke="#111" stroke-width="0.08">-15</text>
<text x="30.5" y="365.77" text-anchor="end" font-size="9" font-family="Liberation Sans, sans-serif" fill="#111" stroke="#111" stroke-width="0.08">-10</text>
<text x="30.5" y="334.79" text-anchor="end" font-size="9" font-family="Liberation Sans, sans-serif" fill="#111" stroke="#111" stroke-width="0.08">-5</text>
<text x="30.5" y="303.8" text-anchor="end" font-size="9" font-family="Liberation Sans, sans-serif" fill="#111" stroke="#111" stroke-width="0.08">0</text>
<text x="171.65" y="544.5" text-anchor="middle" font-size="10" font-family="Liberation Sans, sans-serif" fill="#111" stroke="#111" stroke-width="0.25">MSNR-input/dB)</text>
<text x="0" y="0" transform="translate(13.4 409.85) rotate(-90)" text-anchor="middle" font-size="10" font-family="Liberation Sans, sans-serif" fill="#111" stroke="#111" stroke-width="0.25">MSNR-output/dB</text>
<path d="M34.1 517.7 L64.84 512.7 L95.59 469 L126.33 450.7 L157.08 475 L187.82 468 L218.57 460.3 L249.31 407 L280.06 448 L310.8 470.5" fill="none" stroke="#111" stroke-width="1.1" stroke-linejoin="round"/>
<path d="M34.1 350 L64.84 393.7 L95.59 365.2 L126.33 358 L157.08 342.9 L187.82 350.3 L218.57 361.5 L249.31 356.8 L280.06 378.7 L310.8 373.6" fill="none" stroke="#aa3050" stroke-width="1.1" stroke-linejoin="round"/>
<path d="M34.1 369.6 L64.84 395.9 L95.59 354.3 L126.33 399.2 L157.08 383.1 L187.82 358.6 L218.57 374.2 L249.31 386.3 L280.06 368.3 L310.8 384.1" fill="none" stroke="#1c48f0" stroke-width="1.1" stroke-dasharray="6 4" stroke-linejoin="round"/>
<path d="M34.1 377.3 L64.84 386 L95.59 393.7 L126.33 382.8 L157.08 389.6 L187.82 390.2 L218.57 406 L249.31 374.9 L280.06 398.3 L310.8 406.6" fill="none" stroke="#7a55f5" stroke-width="1.1" stroke-linejoin="round"/>
<path d="M31.5 377.3H36.7M34.1 374.7V379.9M32.28 375.48L35.92 379.12M32.28 379.12L35.92 375.48" stroke="#7a55f5" stroke-width="1.1"/><circle cx="34.1" cy="377.3" r="1.4" fill="#7a55f5"/>
<path d="M62.24 386H67.44M64.84 383.4V388.6M63.02 384.18L66.66 387.82M63.02 387.82L66.66 384.18" stroke="#7a55f5" stroke-width="1.1"/><circle cx="64.84" cy="386" r="1.4" fill="#7a55f5"/>
<path d="M92.99 393.7H98.19M95.59 391.1V396.3M93.77 391.88L97.41 395.52M93.77 395.52L97.41 391.88" stroke="#7a55f5" stroke-width="1.1"/><circle cx="95.59" cy="393.7" r="1.4" fill="#7a55f5"/>
<path d="M123.73 382.8H128.93M126.33 380.2V385.4M124.51 380.98L128.15 384.62M124.51 384.62L128.15 380.98" stroke="#7a55f5" stroke-width="1.1"/><circle cx="126.33" cy="382.8" r="1.4" fill="#7a55f5"/>
<path d="M154.48 389.6H159.68M157.08 387V392.2M155.26 387.78L158.9 391.42M155.26 391.42L158.9 387.78" stroke="#7a55f5" stroke-width="1.1"/><circle cx="157.08" cy="389.6" r="1.4" fill="#7a55f5"/>
<path d="M185.22 390.2H190.42M187.82 387.6V392.8M186 388.38L189.64 392.02M186 392.02L189.64 388.38" stroke="#7a55f5" stroke-width="1.1"/><circle cx="187.82" cy="390.2" r="1.4" fill="#7a55f5"/>
<path d="M215.97 406H221.17M218.57 403.4V408.6M216.75 404.18L220.39 407.82M216.75 407.82L220.39 404.18" stroke="#7a55f5" stroke-width="1.1"/><circle cx="218.57" cy="406" r="1.4" fill="#7a55f5"/>
<path d="M246.71 374.9H251.91M249.31 372.3V377.5M247.49 373.08L251.13 376.72M247.49 376.72L251.13 373.08" stroke="#7a55f5" stroke-width="1.1"/><circle cx="249.31" cy="374.9" r="1.4" fill="#7a55f5"/>
<path d="M277.46 398.3H282.66M280.06 395.7V400.9M278.24 396.48L281.88 400.12M278.24 400.12L281.88 396.48" stroke="#7a55f5" stroke-width="1.1"/><circle cx="280.06" cy="398.3" r="1.4" fill="#7a55f5"/>
<path d="M308.2 406.6H313.4M310.8 404V409.2M308.98 404.78L312.62 408.42M308.98 408.42L312.62 404.78" stroke="#7a55f5" stroke-width="1.1"/><circle cx="310.8" cy="406.6" r="1.4" fill="#7a55f5"/>
<path d="M34.1 325.3 L64.84 327.1 L95.59 322 L126.33 336.2 L157.08 338.7 L187.82 340.7 L218.57 334.2 L249.31 348.7 L280.06 344.7 L310.8 356.8" fill="none" stroke="#4a40f0" stroke-width="1.1" stroke-linejoin="round"/>
<circle cx="34.1" cy="325.3" r="2.8" fill="none" stroke="#4a40f0" stroke-width="1.15"/>
<circle cx="64.84" cy="327.1" r="2.8" fill="none" stroke="#4a40f0" stroke-width="1.15"/>
<circle cx="95.59" cy="322" r="2.8" fill="none" stroke="#4a40f0" stroke-width="1.15"/>
<circle cx="126.33" cy="336.2" r="2.8" fill="none" stroke="#4a40f0" stroke-width="1.15"/>
<circle cx="157.08" cy="338.7" r="2.8" fill="none" stroke="#4a40f0" stroke-width="1.15"/>
<circle cx="187.82" cy="340.7" r="2.8" fill="none" stroke="#4a40f0" stroke-width="1.15"/>
<circle cx="218.57" cy="334.2" r="2.8" fill="none" stroke="#4a40f0" stroke-width="1.15"/>
<circle cx="249.31" cy="348.7" r="2.8" fill="none" stroke="#4a40f0" stroke-width="1.15"/>
<circle cx="280.06" cy="344.7" r="2.8" fill="none" stroke="#4a40f0" stroke-width="1.15"/>
<circle cx="310.8" cy="356.8" r="2.8" fill="none" stroke="#4a40f0" stroke-width="1.15"/>
<path d="M34.1 331.2 L64.84 343.3 L95.59 346.4 L126.33 335.3 L157.08 359.8 L187.82 348 L218.57 362.5 L249.31 365.5 L280.06 361.2 L310.8 362.9" fill="none" stroke="#111" stroke-width="1.1" stroke-dasharray="6 4" stroke-linejoin="round"/>
<path d="M34.1 344.6 L64.84 323.1 L95.59 328.6 L126.33 346.8 L157.08 360.2 L187.82 346.4 L218.57 368.9 L249.31 350.2 L280.06 394 L310.8 338.6" fill="none" stroke="#111" stroke-width="1.1" stroke-linejoin="round"/>
<path d="M31.5 344.6H36.7M34.1 342V347.2M32.28 342.78L35.92 346.42M32.28 346.42L35.92 342.78" stroke="#111" stroke-width="1.1"/><circle cx="34.1" cy="344.6" r="1.4" fill="#111"/>
<path d="M62.24 323.1H67.44M64.84 320.5V325.7M63.02 321.28L66.66 324.92M63.02 324.92L66.66 321.28" stroke="#111" stroke-width="1.1"/><circle cx="64.84" cy="323.1" r="1.4" fill="#111"/>
<path d="M92.99 328.6H98.19M95.59 326V331.2M93.77 326.78L97.41 330.42M93.77 330.42L97.41 326.78" stroke="#111" stroke-width="1.1"/><circle cx="95.59" cy="328.6" r="1.4" fill="#111"/>
<path d="M123.73 346.8H128.93M126.33 344.2V349.4M124.51 344.98L128.15 348.62M124.51 348.62L128.15 344.98" stroke="#111" stroke-width="1.1"/><circle cx="126.33" cy="346.8" r="1.4" fill="#111"/>
<path d="M154.48 360.2H159.68M157.08 357.6V362.8M155.26 358.38L158.9 362.02M155.26 362.02L158.9 358.38" stroke="#111" stroke-width="1.1"/><circle cx="157.08" cy="360.2" r="1.4" fill="#111"/>
<path d="M185.22 346.4H190.42M187.82 343.8V349M186 344.58L189.64 348.22M186 348.22L189.64 344.58" stroke="#111" stroke-width="1.1"/><circle cx="187.82" cy="346.4" r="1.4" fill="#111"/>
<path d="M215.97 368.9H221.17M218.57 366.3V371.5M216.75 367.08L220.39 370.72M216.75 370.72L220.39 367.08" stroke="#111" stroke-width="1.1"/><circle cx="218.57" cy="368.9" r="1.4" fill="#111"/>
<path d="M246.71 350.2H251.91M249.31 347.6V352.8M247.49 348.38L251.13 352.02M247.49 352.02L251.13 348.38" stroke="#111" stroke-width="1.1"/><circle cx="249.31" cy="350.2" r="1.4" fill="#111"/>
<path d="M277.46 394H282.66M280.06 391.4V396.6M278.24 392.18L281.88 395.82M278.24 395.82L281.88 392.18" stroke="#111" stroke-width="1.1"/><circle cx="280.06" cy="394" r="1.4" fill="#111"/>
<path d="M308.2 338.6H313.4M310.8 336V341.2M308.98 336.78L312.62 340.42M308.98 340.42L312.62 336.78" stroke="#111" stroke-width="1.1"/><circle cx="310.8" cy="338.6" r="1.4" fill="#111"/>
<path d="M34.1 302 L64.84 301.6 L95.59 301 L126.33 302 L157.08 301.4 L187.82 301.6 L218.57 301.4 L249.31 301.4 L280.06 302 L310.8 300.5" fill="none" stroke="#111" stroke-width="1.1" stroke-linejoin="round"/>
<circle cx="34.1" cy="302" r="2.8" fill="none" stroke="#111" stroke-width="1.15"/>
<circle cx="64.84" cy="301.6" r="2.8" fill="none" stroke="#111" stroke-width="1.15"/>
<circle cx="95.59" cy="301" r="2.8" fill="none" stroke="#111" stroke-width="1.15"/>
<circle cx="126.33" cy="302" r="2.8" fill="none" stroke="#111" stroke-width="1.15"/>
<circle cx="157.08" cy="301.4" r="2.8" fill="none" stroke="#111" stroke-width="1.15"/>
<circle cx="187.82" cy="301.6" r="2.8" fill="none" stroke="#111" stroke-width="1.15"/>
<circle cx="218.57" cy="301.4" r="2.8" fill="none" stroke="#111" stroke-width="1.15"/>
<circle cx="249.31" cy="301.4" r="2.8" fill="none" stroke="#111" stroke-width="1.15"/>
<circle cx="280.06" cy="302" r="2.8" fill="none" stroke="#111" stroke-width="1.15"/>
<circle cx="310.8" cy="300.5" r="2.8" fill="none" stroke="#111" stroke-width="1.15"/>
<line x1="266.6" y1="416" x2="291.9" y2="416" stroke="#111" stroke-width="1.1"/>
<circle cx="279.25" cy="416" r="2.8" fill="none" stroke="#111" stroke-width="1.15"/>
<text x="294.2" y="420" font-size="10" font-family="Liberation Sans, sans-serif" fill="#111" stroke="#111" stroke-width="0.15">FSTFT</text>
<line x1="266.6" y1="429.6" x2="291.9" y2="429.6" stroke="#111" stroke-width="1.1"/>
<path d="M276.65 429.6H281.85M279.25 427V432.2M277.43 427.78L281.07 431.42M277.43 431.42L281.07 427.78" stroke="#111" stroke-width="1.1"/><circle cx="279.25" cy="429.6" r="1.4" fill="#111"/>
<text x="294.2" y="433.6" font-size="10" font-family="Liberation Sans, sans-serif" fill="#111" stroke="#111" stroke-width="0.15">FSST1</text>
<line x1="266.6" y1="443.2" x2="291.9" y2="443.2" stroke="#111" stroke-width="1.1" stroke-dasharray="6 4"/>
<text x="294.2" y="447.2" font-size="10" font-family="Liberation Sans, sans-serif" fill="#111" stroke="#111" stroke-width="0.15">FSST2</text>
<line x1="266.6" y1="456.8" x2="291.9" y2="456.8" stroke="#111" stroke-width="1.1"/>
<text x="294.2" y="460.8" font-size="10" font-family="Liberation Sans, sans-serif" fill="#111" stroke="#111" stroke-width="0.15">FSET</text>
<line x1="266.6" y1="470.4" x2="291.9" y2="470.4" stroke="#aa3050" stroke-width="1.1"/>
<text x="294.2" y="474.4" font-size="10" font-family="Liberation Sans, sans-serif" fill="#111" stroke="#111" stroke-width="0.15">FSSET</text>
<line x1="266.6" y1="484" x2="291.9" y2="484" stroke="#1c48f0" stroke-width="1.1" stroke-dasharray="6 4"/>
<text x="294.2" y="488" font-size="10" font-family="Liberation Sans, sans-serif" fill="#111" stroke="#111" stroke-width="0.15">FSOSET</text>
<line x1="266.6" y1="497.6" x2="291.9" y2="497.6" stroke="#4a40f0" stroke-width="1.1"/>
<circle cx="279.25" cy="497.6" r="2.8" fill="none" stroke="#4a40f0" stroke-width="1.15"/>
<text x="294.2" y="501.6" font-size="10" font-family="Liberation Sans, sans-serif" fill="#111" stroke="#111" stroke-width="0.15">FMSST1</text>
<line x1="266.6" y1="511.2" x2="291.9" y2="511.2" stroke="#7a55f5" stroke-width="1.1"/>
<path d="M276.65 511.2H281.85M279.25 508.6V513.8M277.43 509.38L281.07 513.02M277.43 513.02L281.07 509.38" stroke="#7a55f5" stroke-width="1.1"/><circle cx="279.25" cy="511.2" r="1.4" fill="#7a55f5"/>
<text x="294.2" y="515.2" font-size="10" font-family="Liberation Sans, sans-serif" fill="#111" stroke="#111" stroke-width="0.15">FMSST8</text>
<text x="0" y="298.7" font-size="15" font-weight="bold" font-family="Liberation Sans, sans-serif" fill="#000" stroke="#000" stroke-width="0.35">(c)</text>
</svg>
</body></html>
